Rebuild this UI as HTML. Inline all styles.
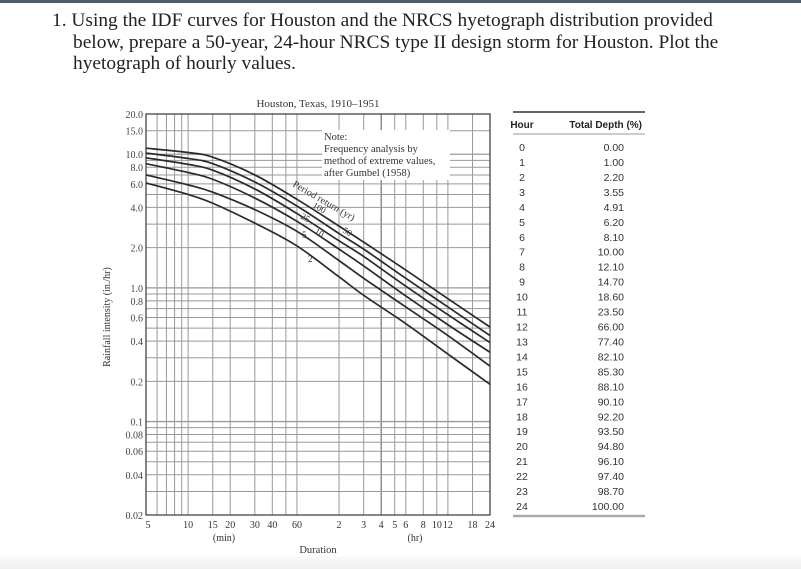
<!DOCTYPE html>
<html><head><meta charset="utf-8"><style>
body{margin:0;width:801px;height:569px;overflow:hidden;background:#fff;font-family:"Liberation Serif",serif;position:relative}
#topbar{position:absolute;left:0;top:0;width:801px;height:3px;background:#4d5d69}
#q{position:absolute;left:52px;top:10px;width:720px;font-size:19.4px;line-height:21.5px;color:#222;white-space:nowrap}
#q .ind{padding-left:21px}
#foot{position:absolute;left:0;top:556px;width:801px;height:13px;background:linear-gradient(#fafafa,#f0f0f0)}
svg{position:absolute;left:0;top:0}
</style></head><body>
<div id="topbar"></div>
<div id="q">1. Using the IDF curves for Houston and the NRCS hyetograph distribution provided<br><span class="ind">below, prepare a 50-year, 24-hour NRCS type II design storm for Houston. Plot the</span><br><span class="ind">hyetograph of hourly values.</span></div>
<div id="foot"></div>
<svg id="chart" width="801" height="569"></svg>
<script>
const durations=[5,10,15,30,60,120,180,360,720,1440];
const periods=["2","5","10","25","50","100"];
const s2=[6.1,5.0,4.3,3.05,2.06,1.21,0.88,0.54,0.32,0.19];
const s5=[7.0,5.9,5.2,3.85,2.65,1.6,1.18,0.72,0.44,0.26];
const s10=[8.5,7.3,6.5,4.7,3.15,1.95,1.46,0.87,0.53,0.33];
const s25=[9.4,8.4,7.6,5.5,3.6,2.25,1.72,1.03,0.63,0.39];
const s50=[10.2,9.3,8.5,6.2,4.1,2.55,1.95,1.18,0.72,0.44];
const s100=[11.1,10.3,9.5,7.0,4.6,2.9,2.2,1.36,0.83,0.51];
const xGrid=[5,6,7,8,9,10,15,20,30,40,50,60,120,180,240,300,360,480,600,720,1080,1440];
const xTickVals=[5,10,15,20,30,40,60,120,180,240,300,360,480,600,720,1080,1440];
const xTickLabels=["5","10","15","20","30","40","60","2","3","4","5","6","8","10","12","18","24"];
const yGrid=[0.02,0.03,0.04,0.05,0.06,0.07,0.08,0.09,0.1,0.2,0.3,0.4,0.5,0.6,0.7,0.8,0.9,1,2,3,4,5,6,7,8,9,10,15,20];
const yTickVals=[20,15,10,8,6,4,2,1,0.8,0.6,0.4,0.2,0.1,0.08,0.06,0.04,0.02];
const yTickLabels=["20.0","15.0","10.0","8.0","6.0","4.0","2.0","1.0","0.8","0.6","0.4","0.2","0.1","0.08","0.06","0.04","0.02"];
const hours=[0,1,2,3,4,5,6,7,8,9,10,11,12,13,14,15,16,17,18,19,20,21,22,23,24];
const depths=["0.00","1.00","2.20","3.55","4.91","6.20","8.10","10.00","12.10","14.70","18.60","23.50","66.00","77.40","82.10","85.30","88.10","90.10","92.20","93.50","94.80","96.10","97.40","98.70","100.00"];

const L=146,R=490,T=114,B=515;
const X=d=>L+(Math.log10(d/5))/Math.log10(1440/5)*(R-L);
const Y=v=>T+(Math.log10(20/v))/3*(B-T);
const svg=document.getElementById('chart');
const NS='http://www.w3.org/2000/svg';
function mk(tag,at,txt){const e=document.createElementNS(NS,tag);for(const k in at)e.setAttribute(k,at[k]);if(txt!==undefined)e.textContent=txt;svg.appendChild(e);return e;}

xGrid.forEach(d=>{const e=mk('line',{x1:X(d),x2:X(d),y1:T,y2:B,stroke:(d==240?'#555':'#999'),'stroke-width':1});

});
yGrid.forEach(v=>{const e=mk('line',{x1:L,x2:R,y1:Y(v),y2:Y(v),stroke:'#999','stroke-width':(v==0.1||v==1||v==10?1.3:1)});

});
const fr=mk('rect',{x:L,y:T,width:R-L,height:B-T,fill:'none',stroke:'#444','stroke-width':1.3});



xTickVals.forEach((d,i)=>{const e=mk('text',{x:X(d)+(i==0?2:0),y:B+13,'font-size':10,'text-anchor':'middle',fill:'#333'},xTickLabels[i]);

});
yTickVals.forEach((v,i)=>{const e=mk('text',{x:L-3,y:Y(v)+4,'font-size':10,'text-anchor':'end',fill:'#444'},yTickLabels[i]);

});

const series=[s2,s5,s10,s25,s50,s100];
function smoothPath(p){let d='M'+p[0][0]+','+p[0][1];
for(let i=0;i<p.length-1;i++){const p0=p[i-1]||p[i],p1=p[i],p2=p[i+1],p3=p[i+2]||p2;
const c1x=p1[0]+(p2[0]-p0[0])/6,c1y=p1[1]+(p2[1]-p0[1])/6,c2x=p2[0]-(p3[0]-p1[0])/6,c2y=p2[1]-(p3[1]-p1[1])/6;
d+=' C'+c1x+','+c1y+' '+c2x+','+c2y+' '+p2[0]+','+p2[1];}return d;}
series.forEach((s,i)=>{const pts=durations.map((d,j)=>[X(d),Y(s[j])]);
const e=mk('path',{d:smoothPath(pts),fill:'none',stroke:'#2a2a2a','stroke-width':1.7});

});

function txt(name,at,t){const e=mk('text',at,t);return e;}
txt('chart-title',{x:318,y:107,'font-size':11,'text-anchor':'middle',fill:'#333'},'Houston, Texas, 1910–1951');
const nb=mk('rect',{x:322,y:130,width:128,height:50,fill:'#fff'});


txt('note-line-1',{x:324,y:140,'font-size':10.5,fill:'#333'},'Note:');
txt('note-line-2',{x:324,y:152,'font-size':10.5,fill:'#333'},'Frequency analysis by');
txt('note-line-3',{x:324,y:164,'font-size':10.5,fill:'#333'},'method of extreme values,');
txt('note-line-4',{x:324,y:176,'font-size':10.5,fill:'#333'},'after Gumbel (1958)');
txt('period-return-label',{x:292,y:186,'font-size':10,fill:'#333',transform:'rotate(30 292 186)'},'Period return (yr)');
txt('label-100',{x:312,y:207,'font-size':9,fill:'#333',transform:'rotate(30 312 207)'},'100');
txt('label-25',{x:300,y:218,'font-size':9,fill:'#333',transform:'rotate(30 300 218)'},'25');
txt('label-50',{x:342,y:232,'font-size':9,fill:'#333',transform:'rotate(30 342 232)'},'50');
txt('label-10',{x:314,y:233,'font-size':9,fill:'#333',transform:'rotate(30 314 233)'},'10');
txt('label-5',{x:302,y:238,'font-size':9,fill:'#333'},'5');
txt('label-2',{x:308,y:262,'font-size':9,fill:'#333'},'2');
txt('x-unit-min',{x:224,y:541,'font-size':10,'text-anchor':'middle',fill:'#333'},'(min)');
txt('x-unit-hr',{x:415,y:541,'font-size':10,'text-anchor':'middle',fill:'#333'},'(hr)');
txt('x-axis-title',{x:318,y:553,'font-size':10.5,'text-anchor':'middle',fill:'#333'},'Duration');
txt('y-axis-title',{x:110,y:317,'font-size':10,'text-anchor':'middle',fill:'#333',transform:'rotate(-90 110 317)'},'Rainfall intensity (in./hr)');

const tl=[[513,112,'#666',2],[513,134,'#999',1],[513,516,'#aaa',2.5]];
tl.forEach(a=>{const e=mk('line',{x1:a[0],x2:645,y1:a[1],y2:a[1],stroke:a[2],'stroke-width':a[3]});

});
const tf='"Liberation Sans",sans-serif';
txt('table-header-hour',{x:522,y:128,'font-size':10,'text-anchor':'middle','font-family':tf,'font-weight':'bold',fill:'#222'},'Hour');
txt('table-header-depth',{x:642,y:128,'font-size':10,'text-anchor':'end','font-family':tf,'font-weight':'bold',fill:'#222'},'Total Depth (%)');
hours.forEach((h,i)=>{const y=151+i*14.96;
txt('table-hour-cell',{x:522,y:y,'font-size':10.5,'text-anchor':'middle','font-family':tf,fill:'#333'},String(h));
txt('table-depth-cell',{x:624,y:y,'font-size':10.5,'text-anchor':'end','font-family':tf,fill:'#333'},depths[i]);});
</script>
</body></html>
